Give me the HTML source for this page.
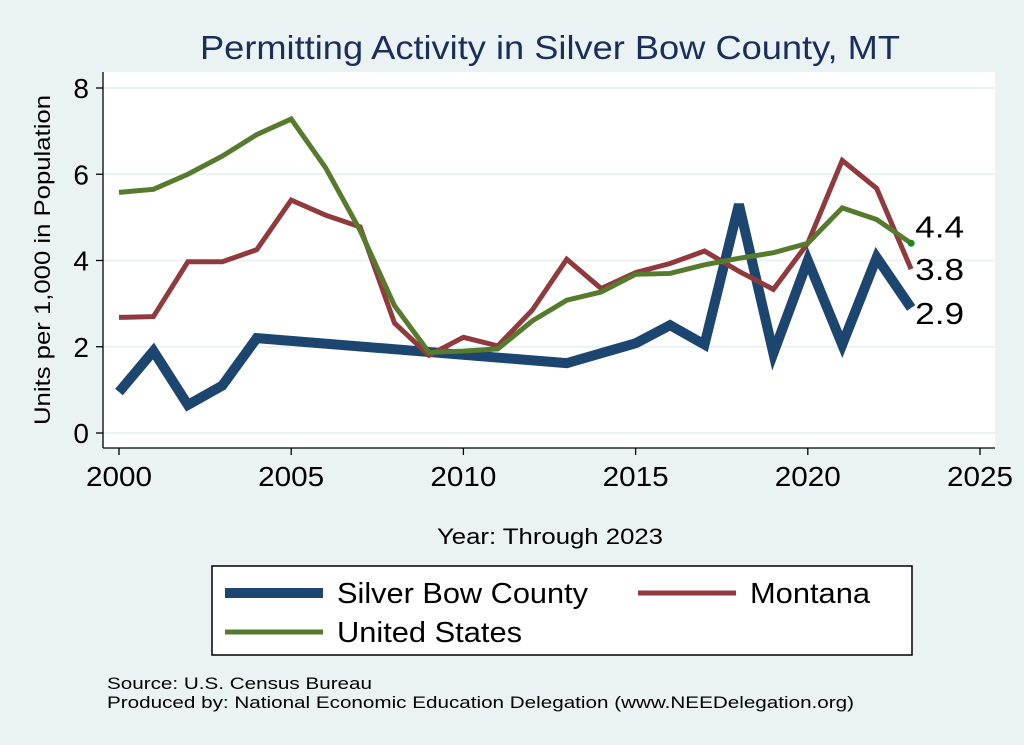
<!DOCTYPE html>
<html><head><meta charset="utf-8"><style>
body{margin:0;background:#eaf2f3;}
svg{display:block;font-family:"Liberation Sans",sans-serif;}
</style></head><body>
<svg id="chart" width="1024" height="745">
<rect x="0" y="0" width="1024" height="745" fill="#eaf2f3"/>
<text x="200" y="59" font-size="33" fill="#1a2e5a" textLength="700" lengthAdjust="spacingAndGlyphs">Permitting Activity in Silver Bow County, MT</text>
<rect x="103" y="72" width="892" height="376" fill="#fff"/>
<g id="grid"></g><g id="axes"></g><g id="series"></g><g id="labels"></g>
<text x="437" y="544" font-size="22" textLength="226" lengthAdjust="spacingAndGlyphs">Year: Through 2023</text>
<text transform="translate(50,425) rotate(-90)" font-size="22" textLength="330" lengthAdjust="spacingAndGlyphs">Units per 1,000 in Population</text>
<g>
<rect x="212" y="566" width="700" height="89" fill="#fff" stroke="#000" stroke-width="1.5"/>
<line x1="225" y1="593" x2="323" y2="593" stroke="#1c4670" stroke-width="10"/>
<text x="337" y="603" font-size="29" textLength="251" lengthAdjust="spacingAndGlyphs">Silver Bow County</text>
<line x1="638" y1="593" x2="736" y2="593" stroke="#913a3e" stroke-width="5"/>
<text x="750" y="603" font-size="29" textLength="120" lengthAdjust="spacingAndGlyphs">Montana</text>
<line x1="225" y1="632" x2="323" y2="632" stroke="#567a2e" stroke-width="5"/>
<text x="337" y="642" font-size="29" textLength="185" lengthAdjust="spacingAndGlyphs">United States</text>
</g>
<text x="107" y="689" font-size="17" textLength="265" lengthAdjust="spacingAndGlyphs">Source: U.S. Census Bureau</text>
<text x="107" y="708" font-size="17" textLength="747" lengthAdjust="spacingAndGlyphs">Produced by: National Economic Education Delegation (www.NEEDelegation.org)</text>
</svg>
<script>
const sbYears=[2000,2001,2002,2003,2004,2013,2014,2015,2016,2017,2018,2019,2020,2021,2022,2023];
const sbValues=[0.95,1.9,0.65,1.1,2.2,1.62,1.85,2.08,2.5,2.05,5.3,1.85,4.0,2.05,4.07,2.9];
const mtYears=[2000,2001,2002,2003,2004,2005,2006,2007,2008,2009,2010,2011,2012,2013,2014,2015,2016,2017,2018,2019,2020,2021,2022,2023];
const mtValues=[2.68,2.7,3.97,3.97,4.25,5.4,5.05,4.78,2.55,1.8,2.22,2.02,2.85,4.03,3.35,3.72,3.93,4.22,3.75,3.33,4.4,6.32,5.67,3.8];
const usValues=[5.58,5.65,6.0,6.42,6.92,7.28,6.15,4.7,2.95,1.87,1.9,1.95,2.6,3.08,3.27,3.68,3.7,3.9,4.05,4.18,4.4,5.22,4.95,4.4];
const xTicks=[2000,2005,2010,2015,2020,2025];
const yTicks=[0,2,4,6,8];
const endLabels=["4.4","3.8","2.9"];
const NS="http://www.w3.org/2000/svg";
const X=v=>119+(v-2000)*(980-119)/25;
const Y=v=>433-v*(433-88)/8;
function mk(tag,attrs,parent){const e=document.createElementNS(NS,tag);for(const k in attrs)e.setAttribute(k,attrs[k]);document.getElementById(parent).appendChild(e);return e;}
yTicks.forEach(t=>{
 const g=mk('line',{x1:103,x2:995,y1:Y(t),y2:Y(t),stroke:'#eaf2f3','stroke-width':2},'grid');
 
 
 mk('line',{x1:96,x2:103,y1:Y(t),y2:Y(t),stroke:'#000','stroke-width':1.3},'axes');
 const tx=mk('text',{x:89,y:Y(t)+10,'font-size':28,'text-anchor':'end'},'axes');tx.textContent=t;
 
 
});
xTicks.forEach(t=>{
 mk('line',{x1:X(t),x2:X(t),y1:448,y2:455,stroke:'#000','stroke-width':1.3},'axes');
 const tx=mk('text',{x:X(t)-33,y:486,'font-size':28,textLength:66,lengthAdjust:'spacingAndGlyphs'},'axes');tx.textContent=t;
 
 
});
mk('line',{x1:103,x2:103,y1:72,y2:448,stroke:'#000','stroke-width':1.3},'axes');
mk('line',{x1:103,x2:995,y1:448,y2:448,stroke:'#000','stroke-width':1.3},'axes');
function line(xs,vs,color,w,name){
 const p=mk('polyline',{points:xs.map((x,i)=>X(x)+','+Y(vs[i])).join(' '),fill:'none',stroke:color,'stroke-width':w,'stroke-linejoin':'miter'},'series');
 
 
}
line(sbYears,sbValues,'#1c4670',10,'line-silver-bow');
line(mtYears,mtValues,'#913a3e',5,'line-montana');
line(mtYears,usValues,'#567a2e',5,'line-us');
const dot=mk('circle',{cx:X(2023),cy:Y(usValues[usValues.length-1]),r:3.5,fill:'#1a8a1a'},'series');


const lv=[usValues[usValues.length-1],mtValues[mtValues.length-1],sbValues[sbValues.length-1]];
const dy=[-6,11,16];
endLabels.forEach((l,i)=>{
 const t=mk('text',{x:X(2023)+4,y:Y(lv[i])+dy[i],'font-size':31,textLength:49,lengthAdjust:'spacingAndGlyphs'},'labels');t.textContent=l;
 
 
});
</script>
</body></html>
